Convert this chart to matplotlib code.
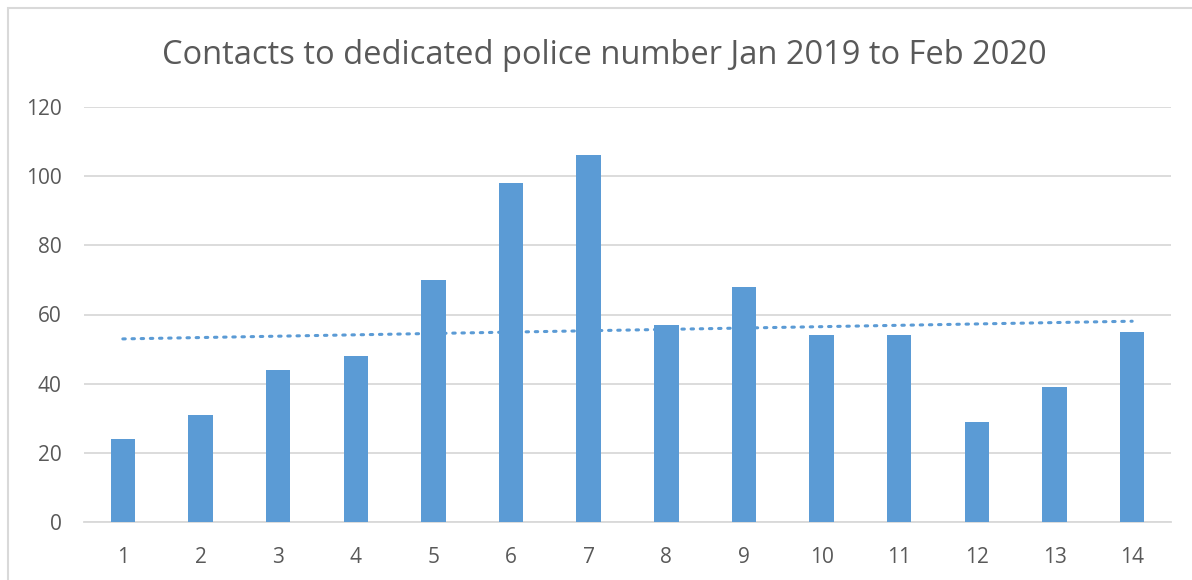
import numpy as np
import matplotlib
matplotlib.use("Agg")
import matplotlib.pyplot as plt
from matplotlib.patches import Rectangle

months = list(range(1, 15))
contacts = [24, 31, 44, 48, 70, 98, 106, 57, 68, 54, 54, 29, 39, 55]
yticks = [0, 20, 40, 60, 80, 100, 120]
title = "Contacts to dedicated police number Jan 2019 to Feb 2020"

W, H = 1192, 580
plt.rcParams['font.family'] = ['Open Sans', 'DejaVu Sans']
fig = plt.figure(figsize=(W / 100, H / 100), dpi=100)

# chart border
fig.patches.append(Rectangle((8 / W, -0.1), 1.2, (H - 8) / H + 0.1, transform=fig.transFigure,
                             fill=False, edgecolor='#D9D9D9', linewidth=1.5))

left, right = 84 / W, 1171 / W
bottom, top = 1 - 522 / H, 1 - 107 / H
ax = fig.add_axes([left, bottom, right - left, top - bottom])

x = np.array(months)
ax.bar(x, contacts, width=0.315, color='#5B9BD5', zorder=3)

# linear trendline
coef = np.polyfit(x, contacts, 1)
ax.plot(x, np.polyval(coef, x), linestyle=(0, (0.8, 2.2)), color='#5B9BD5', linewidth=2.2,
        dash_capstyle='round', zorder=4)

ax.set_xlim(0.5, 14.5)
ax.set_ylim(0, 120)
ax.set_yticks(yticks)
ax.set_xticks(x)
ax.set_xticklabels([str(m) for m in months])
ax.grid(axis='y', color='#D9D9D9', linewidth=1.3, zorder=0)
for s in ['top', 'right', 'left']:
    ax.spines[s].set_visible(False)
ax.spines['bottom'].set_color('#D9D9D9')
ax.spines['bottom'].set_linewidth(1.3)
ax.tick_params(axis='both', length=0, labelsize=15, colors='#595959')
ax.tick_params(axis='y', pad=16)
ax.tick_params(axis='x', pad=18)

fig.text(604.5 / W, 1 - 56 / H, title, ha='center', va='center', fontsize=23.5, color='#595959')

fig.savefig('out.png', dpi=100)
